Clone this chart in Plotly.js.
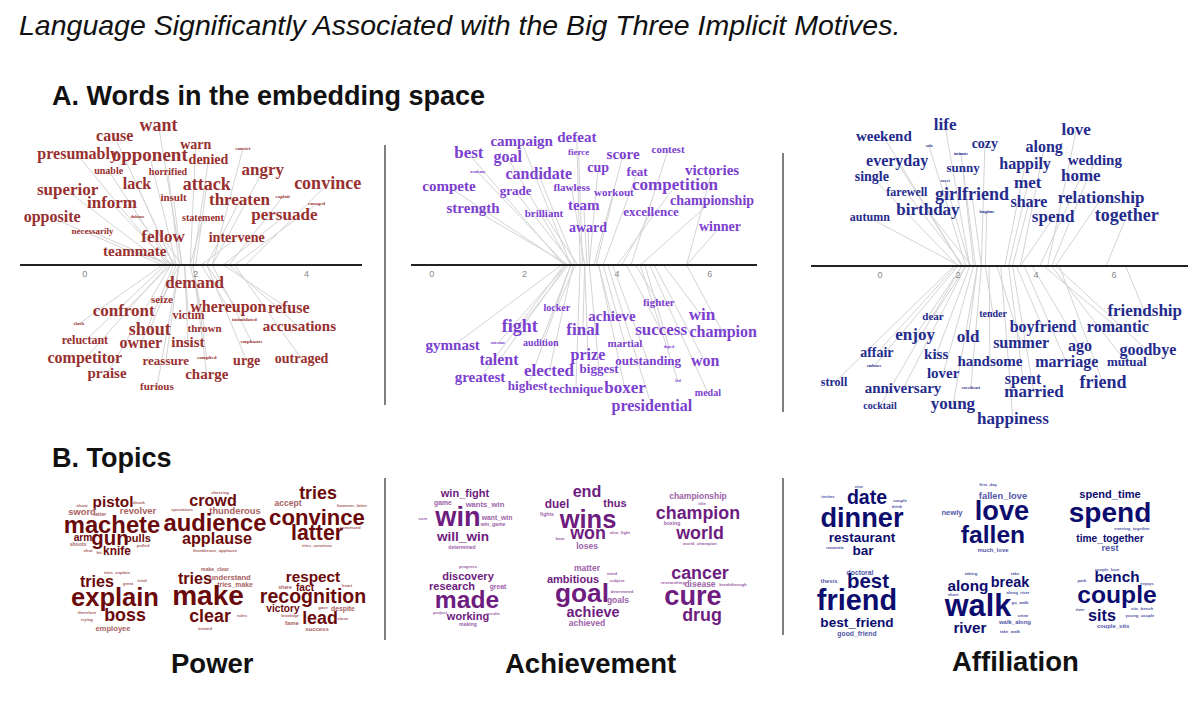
<!DOCTYPE html>
<html><head><meta charset="utf-8">
<script src="https://cdn.plot.ly/plotly-3.0.1.min.js"></script>
<style>html,body{margin:0;padding:0;background:#fff}#chart{width:1200px;height:706px}</style>
</head><body><div id="chart"></div>
<script>
// ---------- A. Words in the embedding space ----------
// Power
const powerWords = ["want","cause","warn","convict","presumably","opponent","denied","unable","horrified","angry","lack","attack","convince","superior","insult","threaten","exploit","enraged","inform","opposite","dubious","statement","persuade","necessarily","fellow","intervene","teammate",
 "demand","seize","confront","victim","whereupon","refuse","intimidated","slash","shout","thrown","accusations","reluctant","owner","insist","emphasize","competitor","reassure","complied","urge","outraged","praise","charge","furious"];
const powerValue = [1.75,1.6,1.9,2.3,1.5,1.65,1.95,1.55,1.7,2.3,1.6,2.0,2.9,1.45,1.75,2.2,2.6,2.7,1.55,1.4,1.65,1.9,2.5,1.5,1.75,2.1,1.65,
 1.9,1.7,1.55,1.8,2.1,2.5,2.2,1.4,1.65,1.95,2.6,1.45,1.6,1.8,2.3,1.5,1.7,1.95,2.2,2.7,1.55,1.95,1.7];
const powerLabelX = [1.33,0.54,2.0,2.85,-0.13,1.17,2.23,0.43,1.5,3.21,0.94,2.2,4.38,-0.31,1.6,2.79,3.57,4.18,0.49,-0.59,0.95,2.13,3.6,0.14,1.41,2.74,0.9,
 1.98,1.39,0.7,1.87,2.59,3.68,2.88,-0.11,1.17,2.16,3.87,0.0,1.01,1.86,3.01,0.0,1.46,2.2,2.92,3.91,0.4,2.2,1.3];
const powerLabelY = [13.9,12.8,12.0,11.6,11.0,10.9,10.5,9.4,9.3,9.4,8.0,8.0,8.1,7.4,6.7,6.4,6.8,6.1,6.1,4.7,4.8,4.7,4.9,3.3,2.7,2.7,1.3,
 -1.9,-3.5,-4.7,-5.1,-4.3,-4.4,-5.5,-5.9,-6.5,-6.4,-6.2,-7.6,-7.9,-7.8,-7.7,-9.4,-9.7,-9.3,-9.6,-9.4,-10.9,-11.0,-12.2];
const powerWeight = [18,16,14,5,16,19,14,10,10,17,16,18,18,17,11,17,5,5,17,16,4,10,17,9,17,14,15,
 17,11,17,12,16,16,5,5,18,11,15,12,16,15,5,16,13,5,14,14,15,15,11];

// Achievement
const achWords = ["campaign","defeat","best","goal","fierce","score","contest","academy","candidate","cup","feat","victories","compete","grade","flawless","workout","competition","championship","strength","brilliant","team","excellence","award","winner",
 "fighter","locker","achieve","win","fight","final","success","champion","gymnast","outcome","audition","martial","doped","talent","prize","outstanding","won","greatest","elected","biggest","3rd","highest","technique","boxer","medal","presidential"];
const achValue = [3.0,3.2,2.85,3.0,3.25,3.5,4.3,2.9,3.1,3.4,3.7,5.5,2.9,3.05,3.3,3.55,4.0,4.5,2.95,3.15,3.35,4.1,3.4,5.5,
 4.4,3.1,3.6,5.0,2.95,3.3,4.2,5.5,2.8,2.9,3.0,3.7,4.6,2.9,3.3,3.9,4.8,2.85,3.05,3.4,4.5,3.0,3.2,3.6,4.7,3.8];
const achLabelX = [1.94,3.13,0.8,1.64,3.17,4.13,5.1,0.99,2.31,3.59,4.43,6.05,0.37,1.81,3.02,3.93,5.25,6.05,0.89,2.42,3.28,4.73,3.37,6.22,
 4.9,2.7,3.89,5.83,1.9,3.26,4.95,6.29,0.45,1.43,2.35,4.17,5.12,1.45,3.37,4.67,5.9,1.04,2.53,3.61,5.31,2.07,3.11,4.17,5.96,4.75];
const achLabelY = [12.3,12.7,11.1,10.7,11.2,11.0,11.5,9.3,9.0,9.7,9.2,9.4,7.8,7.3,7.7,7.2,7.9,6.4,5.6,5.1,5.9,5.2,3.7,3.8,
 -3.8,-4.3,-5.2,-5.1,-6.2,-6.6,-6.6,-6.8,-8.1,-7.8,-7.8,-7.9,-8.2,-9.6,-9.1,-9.7,-9.7,-11.3,-10.7,-10.5,-11.6,-12.2,-12.5,-12.4,-12.8,-14.2];
const achWeight = [15,15,17,16,9,15,11,4,16,14,13,15,15,13,11,11,17,14,15,11,15,13,14,14,
 11,10,15,17,18,17,17,16,15,4,10,11,4,16,16,13,16,15,17,13,4,13,13,17,10,16];

// Affiliation
const affWords = ["weekend","life","sofa","intimate","cozy","love","along","everyday","sunny","happily","wedding","single","sweet","met","home","farewell","girlfriend","share","relationship","autumn","birthday","longtime","spend","together",
 "dear","tender","friendship","boyfriend","romantic","enjoy","old","summer","ago","goodbye","affair","kiss","handsome","marriage","mutual","embrace","lover","stroll","anniversary","sweetheart","spent","friend","married","cocktail","young","happiness"];
const affValue = [2.1,2.3,2.2,2.4,2.6,4.3,3.6,2.1,2.45,3.2,4.4,2.0,2.3,3.3,4.1,2.15,2.6,3.4,4.5,2.05,2.35,2.7,3.6,5.8,
 2.2,2.7,6.3,3.5,4.2,2.1,2.5,3.0,3.9,4.5,1.95,2.3,2.8,3.7,4.4,2.0,2.4,1.9,2.2,2.6,3.3,4.6,3.4,2.1,2.5,3.1];
const affLabelX = [0.1,1.67,1.26,2.08,2.69,5.03,4.21,0.44,2.13,3.72,5.51,-0.21,1.67,3.79,5.15,0.69,2.36,3.82,5.67,-0.26,1.23,2.74,4.44,6.33,
 1.36,2.9,6.79,4.18,6.1,0.9,2.26,3.62,5.13,6.87,-0.08,1.44,2.82,4.79,6.33,-0.15,1.62,-1.18,0.59,2.33,3.67,5.72,3.95,0.0,1.87,3.41];
const affLabelY = [12.9,14.0,12.0,11.2,12.2,13.5,11.8,10.4,9.7,10.1,10.5,8.9,8.5,8.2,8.9,7.3,7.1,6.3,6.7,4.8,5.5,5.4,4.8,5.0,
 -5.1,-4.8,-4.6,-6.2,-6.2,-7.0,-7.2,-7.8,-8.1,-8.5,-8.7,-8.9,-9.6,-9.7,-9.7,-10.0,-10.8,-11.7,-12.3,-12.2,-11.4,-11.7,-12.7,-14.0,-13.9,-15.4];
const affWeight = [15,17,4,4,14,17,16,16,13,16,15,14,4,17,17,12,18,16,17,12,17,4,17,18,
 11,10,17,16,16,17,17,16,16,16,14,15,15,16,13,4,15,12,15,4,16,18,17,10,17,17];

const axisTicks = [0, 2, 4, 6];

// ---------- B. Topics ----------
const powerTopicWords = ["pistol","shoot","drunk","sword","latter","revolver","machete","arm","gun","pulls","shoots","pulled","knife","shot","hit",
 "cheering","crowd","spectators","thunderous","audience","applause","thunderous_applause",
 "tries","accept","however_latter","convince","convinced","latter","tries_convince",
 "tries_explain","tries","great","tried","explain","therefore","trying","boss","employee",
 "make_clear","tries","understand","tries_make","make","clear","rules","treated",
 "respect","share","fact","heart","recognition","victory","gave","despite","knowledge","close","lead","fame","success"];
const powerTopicX = [11.3,8.2,13.9,8.2,10.0,13.8,11.2,8.3,11.0,13.8,7.8,14.3,11.7,8.8,9.9,
 22.0,21.3,18.2,23.5,21.5,21.7,21.5,
 31.8,28.8,35.2,31.7,35.0,31.7,31.7,
 11.7,9.7,12.8,14.2,11.5,8.7,8.7,12.5,11.3,
 21.5,19.5,23.0,23.5,20.8,21.0,24.2,20.5,
 31.3,28.5,30.5,34.7,31.3,28.3,32.3,34.3,29.0,34.3,32.0,29.2,31.7];
const powerTopicY = [20.3,20.0,20.3,19.3,19.1,19.4,17.9,16.8,16.6,16.7,16.1,16.0,15.4,15.5,15.3,
 21.3,20.4,19.6,19.4,18.1,16.6,15.5,
 21.1,20.2,20.0,18.7,17.8,17.1,16.0,
 13.3,12.3,12.2,12.5,10.6,9.3,8.6,8.9,7.7,
 13.6,12.6,12.8,12.1,10.8,8.8,9.0,7.7,
 12.8,11.8,11.8,12.0,10.8,9.7,9.8,9.7,9.0,8.7,8.6,8.2,7.6];
const powerTopicWeight = [18,5,5,11,6,11,28,12,24,13,6,5,14,5,5,
 5,19,5,11,28,19,5,
 21,10,5,26,5,25,5,
 5,19,5,5,30,5,5,21,9,
 6,19,9,8,33,21,5,5,
 18,6,12,5,23,12,5,8,4,5,21,7,7];

const achTopicWords = ["win_fight","game","wants_win","sure","win","want_win","win_game","will_win","determined",
 "end","duel","thus","fights","wins","won","beat","also_fight","loses",
 "championship","title","champion","boxing","world","world_champion",
 "progress","discovery","research","great","made","project","working","results","making",
 "matter","mind","subject","ambitious","goal","determined","goals","achieve","achieved",
 "cancer","researching","disease","breakthrough","cure","drug"];
const achTopicX = [46.5,44.3,48.5,42.3,45.8,49.7,49.3,46.3,46.2,
 58.7,55.7,61.5,54.7,58.8,58.8,56.0,62.0,58.7,
 69.8,70.2,69.8,67.2,70.0,70.0,
 46.8,46.8,45.2,49.8,46.7,44.0,46.8,49.3,46.8,
 58.7,61.2,61.7,57.3,58.2,62.2,61.8,59.3,58.7,
 70.0,67.3,70.0,73.3,69.3,70.2];
const achTopicY = [21.2,20.3,20.1,18.7,18.7,18.8,18.1,16.8,15.8,
 21.3,20.1,20.2,19.1,18.4,17.1,16.7,17.3,15.9,
 20.9,20.2,19.1,18.2,17.1,16.2,
 13.9,12.9,11.9,11.9,10.4,9.3,8.9,9.2,8.1,
 13.7,13.2,12.5,12.6,11.1,11.4,10.5,9.3,8.2,
 13.1,12.3,12.1,12.1,10.8,8.9];
const achTopicWeight = [13,8,9,5,32,8,6,16,6,
 19,14,13,6,30,21,5,5,10,
 10,5,21,6,21,5,
 5,13,13,8,29,5,13,5,6,
 10,5,5,13,31,5,10,17,10,
 21,5,10,5,32,21];

const affTopicWords = ["nice","invites","date","couple","drink","dinner","restaurant","romantic","bar",
 "first_day","fallen_love","newly","love","fallen","much_love",
 "spend_time","spend","evening_together","time_together","rest",
 "doctoral","thesis","best","friend","best_friend","good_friend",
 "taking","take","along","break","along_river","short","go_walk","walk","seine","river","walk_along","take_walk",
 "couple_love","park","bench","enjoys","couple","river","sits","sits_bench","young_couple","couple_sits"];
const affTopicX = [85.9,82.8,86.7,90.0,89.7,86.2,86.2,83.5,86.3,
 98.8,100.3,95.2,100.2,99.3,99.3,
 111.0,111.0,113.2,111.0,111.0,
 86.0,82.9,86.8,85.7,85.7,85.7,
 97.1,101.5,96.8,101.0,101.8,95.3,102.0,97.8,102.3,97.0,101.5,101.0,
 110.7,108.2,111.7,114.7,111.7,108.0,110.2,114.2,114.0,111.3];
const affTopicY = [21.9,20.9,20.7,20.5,19.9,18.6,16.7,15.8,15.4,
 22.1,20.9,19.3,19.3,16.9,15.5,
 21.1,19.1,17.7,16.7,15.7,
 13.3,12.4,12.3,10.3,8.2,7.2,
 13.2,13.2,11.9,12.3,11.3,11.1,10.3,9.8,9.0,7.7,8.3,7.4,
 13.6,12.5,12.8,12.2,10.9,9.6,8.9,9.7,9.0,7.9];
const affTopicWeight = [5,5,23,5,5,32,16,5,16,
 5,11,9,32,29,7,
 13,33,5,12,11,
 8,7,24,34,16,8,
 5,5,18,17,5,5,5,36,5,18,7,5,
 5,5,18,5,29,5,19,5,5,7];

// ---------- styles ----------
const SERIF = "Liberation Serif, Times New Roman, serif";
const COND = "Liberation Sans, Arial, sans-serif";
const SANS = "Liberation Sans, Arial, Helvetica, sans-serif";
const H = 706, W = 1200;
const TOPIC_SCALE = 0.85;

function panel(words, values, lx, ly, weights, color, xa, ya) {
  const sx = [], sy = [];
  words.forEach((w, i) => { sx.push(values[i], lx[i], null); sy.push(0, ly[i], null); });
  return [
    {type: 'scatter', mode: 'lines', x: sx, y: sy, xaxis: xa, yaxis: ya,
     line: {color: '#d4d4d4', width: 1}, hoverinfo: 'skip', cliponaxis: false},
    {type: 'scatter', mode: 'text', x: lx, y: ly, text: words, xaxis: xa, yaxis: ya,
     textposition: 'middle center', cliponaxis: false, hoverinfo: 'skip',
     textfont: {family: SERIF, size: weights, color: color, weight: 'bold'}}
  ];
}
function topics(words, x, y, weights, dark, light) {
  return {type: 'scatter', mode: 'text', x: x, y: y, text: words, xaxis: 'x4', yaxis: 'y4',
    textposition: 'middle center', cliponaxis: false, hoverinfo: 'skip',
    textfont: {family: COND, size: weights.map(s => s * TOPIC_SCALE), weight: 'bold',
      color: weights.map(s => s >= 12 ? dark : light)}};
}

const data = [
  ...panel(powerWords, powerValue, powerLabelX, powerLabelY, powerWeight, '#983030', 'x', 'y'),
  ...panel(achWords, achValue, achLabelX, achLabelY, achWeight, '#7b40cf', 'x2', 'y2'),
  ...panel(affWords, affValue, affLabelX, affLabelY, affWeight, '#252b8c', 'x3', 'y3'),
  topics(powerTopicWords, powerTopicX, powerTopicY, powerTopicWeight, '#6b0a0a', '#a8625f'),
  topics(achTopicWords, achTopicX, achTopicY, achTopicWeight, '#6e1c80', '#9c63a8'),
  topics(affTopicWords, affTopicX, affTopicY, affTopicWeight, '#0c0c6e', '#5257a8')
];

function xa(d0, d1, range, axisPx) {
  return {domain: [d0 / W, d1 / W], range: range, anchor: 'free', position: 1 - axisPx / H,
    showline: true, linecolor: '#222', linewidth: 2, showgrid: false, zeroline: false,
    tickmode: 'array', tickvals: axisTicks, ticks: '', fixedrange: true,
    tickfont: {family: SANS, size: 9, color: '#888'}};
}
function ya(range) {
  return {domain: [1 - 430 / H, 1 - 110 / H], range: range, visible: false, showgrid: false, zeroline: false, fixedrange: true};
}
function ann(text, px, py, size, anchor, opts) {
  return Object.assign({xref: 'paper', yref: 'paper', x: px / W, y: 1 - py / H, xanchor: anchor, yanchor: 'middle',
    text: text, showarrow: false, font: {family: SANS, size: size, color: '#111'}}, opts || {});
}
function vline(px, y0, y1) {
  return {type: 'line', xref: 'paper', yref: 'paper', x0: px / W, x1: px / W, y0: 1 - y0 / H, y1: 1 - y1 / H,
    line: {color: '#555', width: 1.5}};
}

const layout = {
  width: W, height: H, margin: {l: 0, r: 0, t: 0, b: 0},
  paper_bgcolor: '#fff', plot_bgcolor: 'rgba(0,0,0,0)', showlegend: false,
  xaxis: xa(20, 362, [-1.17, 5.0], 265),
  yaxis: ya([-16.5, 15.5]),
  xaxis2: xa(411, 757, [-0.45, 7.02], 265),
  yaxis2: ya([-16.5, 15.5]),
  xaxis3: xa(811, 1188, [-1.77, 7.9], 266),
  yaxis3: ya([-16.4, 15.6]),
  xaxis4: {domain: [0, 1], range: [0, 120], visible: false, fixedrange: true},
  yaxis4: {domain: [0, 1 - 470 / H], range: [0, 23.6], visible: false, fixedrange: true},
  shapes: [vline(385, 145, 405), vline(783, 153, 412), vline(385, 478, 640), vline(783, 478, 635)],
  annotations: [
    ann('<i>Language Significantly Associated with the Big Three Implicit Motives.</i>', 17, 25, 28.5, 'left'),
    ann('<b>A. Words in the embedding space</b>', 50, 96, 27, 'left'),
    ann('<b>B. Topics</b>', 50, 458, 27, 'left'),
    ann('<b>Power</b>', 212, 663, 27.5, 'center'),
    ann('<b>Achievement</b>', 590, 663, 27.5, 'center'),
    ann('<b>Affiliation</b>', 1015, 661, 27.5, 'center')
  ]
};

Plotly.newPlot('chart', data, layout, {staticPlot: true, displayModeBar: false});
</script></body></html>
